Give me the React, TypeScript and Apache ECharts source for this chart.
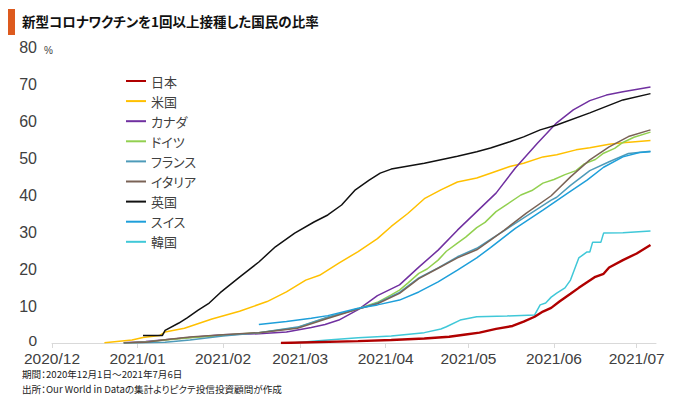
import React, { useEffect, useRef } from "react";
import * as echarts from "echarts";

const seriesNames = ["日本", "米国", "カナダ", "ドイツ", "フランス", "イタリア", "英国", "スイス", "韓国"];
const colors = ["#B00000", "#FFC000", "#7030A0", "#92D050", "#4E9BB9", "#7A6356", "#111111", "#1E9FDA", "#40C8D8"];

const japan: [string, number][] = [
  ["2021-02-22", 0.0], ["2021-03-22", 0.5], ["2021-04-03", 0.8], ["2021-04-15", 1.2], ["2021-04-24", 1.7],
  ["2021-04-30", 2.3], ["2021-05-05", 2.8], ["2021-05-11", 3.8], ["2021-05-17", 4.6], ["2021-05-21", 5.8],
  ["2021-05-25", 7.1], ["2021-05-28", 8.5], ["2021-05-31", 9.5], ["2021-06-03", 11.2], ["2021-06-07", 13.3],
  ["2021-06-10", 14.9], ["2021-06-13", 16.4], ["2021-06-16", 17.9], ["2021-06-19", 18.7], ["2021-06-21", 20.4],
  ["2021-06-26", 22.4], ["2021-07-01", 24.2], ["2021-07-06", 26.5],
];
const usa: [string, number][] = [
  ["2020-12-20", 0.1], ["2020-12-30", 0.8], ["2021-01-03", 1.5], ["2021-01-09", 2.0], ["2021-01-11", 3.0],
  ["2021-01-18", 4.0], ["2021-01-28", 6.5], ["2021-02-07", 8.6], ["2021-02-17", 11.2], ["2021-02-24", 13.8],
  ["2021-03-03", 17.0], ["2021-03-08", 18.3], ["2021-03-15", 21.6], ["2021-03-22", 24.7], ["2021-03-29", 28.2],
  ["2021-04-03", 31.5], ["2021-04-09", 35.0], ["2021-04-15", 39.0], ["2021-04-21", 41.4], ["2021-04-27", 43.5],
  ["2021-05-04", 44.6], ["2021-05-09", 45.9], ["2021-05-16", 47.7], ["2021-05-21", 48.6], ["2021-05-28", 50.3],
  ["2021-06-02", 50.9], ["2021-06-09", 52.2], ["2021-06-14", 52.8], ["2021-06-21", 53.7], ["2021-06-26", 54.1],
  ["2021-07-06", 54.7],
];
const canada: [string, number][] = [
  ["2020-12-27", 0.1], ["2021-01-04", 0.4], ["2021-01-11", 0.9], ["2021-01-20", 1.5], ["2021-02-01", 2.2],
  ["2021-02-14", 2.5], ["2021-02-24", 3.0], ["2021-03-05", 4.2], ["2021-03-10", 5.0], ["2021-03-15", 6.2],
  ["2021-03-19", 7.8], ["2021-03-22", 9.0], ["2021-03-29", 12.8], ["2021-04-06", 15.7], ["2021-04-13", 20.5],
  ["2021-04-20", 25.1], ["2021-04-27", 30.5], ["2021-05-04", 35.5], ["2021-05-11", 40.5], ["2021-05-18", 47.3],
  ["2021-05-26", 54.0], ["2021-06-02", 59.5], ["2021-06-08", 63.0], ["2021-06-14", 65.5], ["2021-06-20", 67.0],
  ["2021-06-26", 67.9], ["2021-07-06", 69.2],
];
const germany: [string, number][] = [
  ["2020-12-27", 0.0], ["2021-01-04", 0.3], ["2021-01-11", 0.8], ["2021-01-20", 1.4], ["2021-02-01", 2.1],
  ["2021-02-14", 2.8], ["2021-02-28", 4.2], ["2021-03-10", 6.6], ["2021-03-22", 9.3], ["2021-03-29", 11.0],
  ["2021-04-03", 13.0], ["2021-04-06", 14.3], ["2021-04-09", 16.2], ["2021-04-13", 18.8], ["2021-04-16", 20.0],
  ["2021-04-20", 22.4], ["2021-04-23", 24.8], ["2021-04-27", 27.0], ["2021-04-30", 28.6], ["2021-05-04", 31.2],
  ["2021-05-07", 32.6], ["2021-05-11", 35.5], ["2021-05-14", 37.0], ["2021-05-20", 40.0], ["2021-05-24", 41.2],
  ["2021-05-28", 43.2], ["2021-06-01", 44.2], ["2021-06-05", 45.5], ["2021-06-09", 46.6], ["2021-06-12", 48.4],
  ["2021-06-16", 49.6], ["2021-06-19", 51.3], ["2021-06-23", 52.6], ["2021-06-26", 54.2], ["2021-06-30", 55.6],
  ["2021-07-06", 57.0],
];
const france: [string, number][] = [
  ["2020-12-27", 0.0], ["2021-01-04", 0.05], ["2021-01-11", 0.2], ["2021-01-20", 0.8], ["2021-02-01", 1.9],
  ["2021-02-14", 2.8], ["2021-02-28", 4.3], ["2021-03-10", 6.8], ["2021-03-22", 9.2], ["2021-03-29", 10.8],
  ["2021-04-06", 13.7], ["2021-04-13", 17.6], ["2021-04-20", 20.3], ["2021-04-27", 23.3], ["2021-05-04", 25.6],
  ["2021-05-09", 28.0], ["2021-05-14", 30.4], ["2021-05-22", 34.3], ["2021-05-31", 38.6], ["2021-06-02", 39.4],
  ["2021-06-07", 42.6], ["2021-06-14", 46.6], ["2021-06-21", 49.0], ["2021-06-28", 51.2], ["2021-07-06", 51.8],
];
const italy: [string, number][] = [
  ["2020-12-27", 0.0], ["2021-01-04", 0.2], ["2021-01-11", 0.9], ["2021-01-20", 1.6], ["2021-02-01", 2.2],
  ["2021-02-14", 2.8], ["2021-02-28", 4.0], ["2021-03-10", 6.4], ["2021-03-22", 9.2], ["2021-03-29", 10.6],
  ["2021-04-06", 13.4], ["2021-04-13", 17.4], ["2021-04-20", 20.2], ["2021-04-27", 23.0], ["2021-05-04", 25.2],
  ["2021-05-09", 27.8], ["2021-05-14", 30.5], ["2021-05-22", 35.1], ["2021-05-31", 39.8], ["2021-06-07", 44.9],
  ["2021-06-14", 49.5], ["2021-06-21", 53.0], ["2021-06-28", 55.8], ["2021-07-06", 57.6],
];
const uk: [string, number][] = [
  ["2021-01-03", 2.0], ["2021-01-10", 2.0], ["2021-01-11", 3.4], ["2021-01-16", 5.4], ["2021-01-19", 6.8],
  ["2021-01-23", 8.9], ["2021-01-27", 10.8], ["2021-01-31", 13.6], ["2021-02-07", 17.8], ["2021-02-14", 21.9],
  ["2021-02-20", 26.0], ["2021-02-27", 29.7], ["2021-03-06", 32.7], ["2021-03-11", 34.6], ["2021-03-16", 37.3],
  ["2021-03-21", 41.4], ["2021-03-26", 44.0], ["2021-03-30", 45.9], ["2021-04-03", 47.0], ["2021-04-15", 48.6],
  ["2021-04-27", 50.5], ["2021-05-04", 51.7], ["2021-05-09", 52.7], ["2021-05-16", 54.4], ["2021-05-21", 55.7],
  ["2021-05-27", 57.6], ["2021-06-02", 58.9], ["2021-06-14", 62.2], ["2021-06-26", 65.7], ["2021-07-06", 67.4],
];
const swiss: [string, number][] = [
  ["2021-02-14", 5.0], ["2021-02-24", 5.8], ["2021-03-05", 6.7], ["2021-03-11", 7.4], ["2021-03-22", 9.4],
  ["2021-03-29", 10.3], ["2021-04-06", 11.6], ["2021-04-13", 13.8], ["2021-04-20", 16.5], ["2021-04-27", 19.7],
  ["2021-05-04", 23.0], ["2021-05-09", 25.8], ["2021-05-18", 31.0], ["2021-05-28", 35.9], ["2021-06-06", 40.5],
  ["2021-06-13", 44.0], ["2021-06-19", 47.5], ["2021-06-26", 50.3], ["2021-07-02", 51.5], ["2021-07-06", 51.7],
];
const korea: [string, number][] = [
  ["2021-02-26", 0.0], ["2021-03-11", 0.8], ["2021-03-22", 1.4], ["2021-04-03", 1.9], ["2021-04-15", 2.8],
  ["2021-04-21", 3.8], ["2021-04-23", 4.4], ["2021-04-28", 6.2], ["2021-05-04", 7.1], ["2021-05-15", 7.3],
  ["2021-05-25", 7.6], ["2021-05-27", 10.3], ["2021-05-29", 10.8], ["2021-05-31", 12.4], ["2021-06-02", 13.5],
  ["2021-06-05", 14.9], ["2021-06-07", 17.0], ["2021-06-10", 23.0], ["2021-06-13", 24.6], ["2021-06-14", 24.6],
  ["2021-06-15", 27.2], ["2021-06-18", 27.2], ["2021-06-19", 29.7], ["2021-06-26", 29.8], ["2021-07-06", 30.3],
];

const allData = [japan, usa, canada, germany, france, italy, uk, swiss, korea];
const lineWidths = [2.4, 1.5, 1.5, 1.5, 1.5, 1.5, 1.5, 1.5, 1.5];

const titleText = "新型コロナワクチンを1回以上接種した国民の比率";
const noteText1 = "期間：2020年12月1日～2021年7月6日";
const noteText2 = "出所：Our World in Dataの集計よりピクテ投信投資顧問が作成";
const unitText = "%";

const JP = "'Noto Sans CJK JP', 'Noto Sans', sans-serif";
const NUM = "'Liberation Sans', Arial, sans-serif";

export default function App() {
  const ref = useRef<HTMLDivElement>(null);
  useEffect(() => {
    if (!ref.current) return;
    const chart = echarts.init(ref.current, null, { renderer: "svg" });
    const fmt = (v: number) => {
      const d = new Date(v);
      return `${d.getFullYear()}/${String(d.getMonth() + 1).padStart(2, "0")}`;
    };
    chart.setOption({
      animation: false,
      backgroundColor: "#ffffff",
      grid: { left: 52, right: 24, top: 47, bottom: 54, containLabel: false },
      legend: {
        orient: "vertical",
        left: 125,
        top: 74,
        padding: 0,
        itemWidth: 20,
        itemHeight: 14,
        itemGap: 6.1,
        data: seriesNames,
        itemStyle: { opacity: 0 },
        textStyle: { fontSize: 13, color: "#404040", fontFamily: JP, lineHeight: 14 },
      },
      xAxis: {
        type: "time",
        min: +new Date(2020, 11, 1),
        max: +new Date(2021, 6, 8),
        splitNumber: 7,
        minInterval: 27 * 86400000,
        maxInterval: 32 * 86400000,
        axisLine: { lineStyle: { color: "#d9d9d9", width: 1 } },
        axisTick: { show: true, length: 5, lineStyle: { color: "#d9d9d9" } },
        splitLine: { show: false },
        axisLabel: {
          formatter: fmt,
          fontSize: 15.5,
          lineHeight: 16,
          color: "#404040",
          fontFamily: NUM,
          margin: 7,
          hideOverlap: false,
          showMinLabel: true,
          showMaxLabel: false,
        },
      },
      yAxis: {
        type: "value",
        min: 0,
        max: 80,
        interval: 10,
        axisLine: { show: false },
        axisTick: { show: false },
        splitLine: { show: false },
        axisLabel: {
          fontSize: 16,
          lineHeight: 14,
          color: "#404040",
          fontFamily: NUM,
          margin: 15,
          formatter: (v: number) => (v === 0 ? "{z|0}" : String(v)),
          rich: {
            z: { fontSize: 15.5, lineHeight: 14, color: "#404040", fontFamily: NUM, padding: [0, 0, 6, 0] },
          },
        },
      },
      graphic: [
        { type: "rect", left: 8, top: 9, shape: { width: 7, height: 26 }, style: { fill: "#DD5A1E" } },
        {
          type: "text",
          left: 22,
          top: 14,
          style: { text: titleText, fontSize: 13.5, fontWeight: "bold", fill: "#111", fontFamily: JP },
        },
        { type: "text", left: 44, top: 45, style: { text: unitText, fontSize: 10, fill: "#404040", fontFamily: NUM } },
        {
          type: "text",
          left: 22,
          top: 368,
          style: { text: noteText1, fontSize: 9.6, lineHeight: 12, fill: "#222", fontFamily: JP },
        },
        {
          type: "text",
          left: 22,
          top: 383,
          style: { text: noteText2, fontSize: 9.6, lineHeight: 12, fill: "#222", fontFamily: JP },
        },
      ],
      series: seriesNames.map((name, i) => ({
        name,
        type: "line",
        data: allData[i],
        symbol: "none",
        showSymbol: false,
        color: colors[i],
        lineStyle: { width: lineWidths[i], color: colors[i] },
        z: i === 0 ? 5 : 2,
      })),
    });
    return () => chart.dispose();
  }, []);
  return (
    <div
      ref={ref}
      style={{ position: "fixed", left: 0, top: 0, width: 680, height: 397, background: "#fff", fontFeatureSettings: '"palt"' }}
    />
  );
}
